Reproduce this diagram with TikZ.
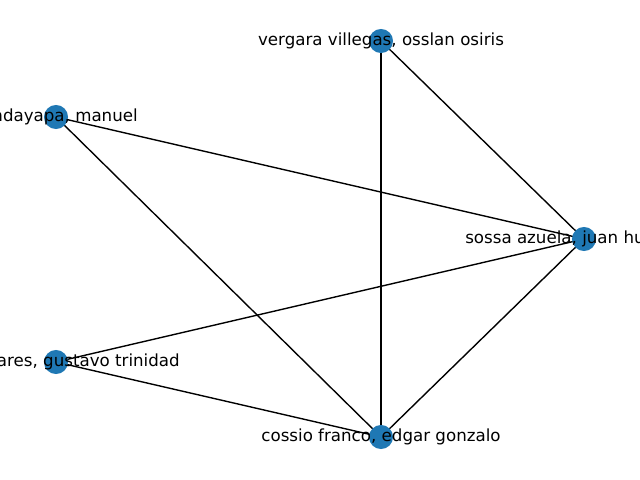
\documentclass[tikz,border=0pt]{standalone}
\usepackage{fontspec}
\setmainfont{DejaVu Sans}
\usetikzlibrary{backgrounds}
\definecolor{nodeblue}{HTML}{1F78B4}
\tikzset{
  vertex/.style={circle, fill=nodeblue, inner sep=0pt, minimum size=17.3pt},
  name label/.style={font=\fontsize{12}{14}\selectfont, inner sep=0pt},
  link/.style={line width=1pt}
}

\begin{document}
\begin{tikzpicture}[x=0.72pt, y=-0.72pt]
      \useasboundingbox (0,0) rectangle (640,480);
      \clip (0,0) rectangle (640,480);
      % vertices
      \node [vertex] (vergara) at (381,41) {};
      \node [vertex] (manuel) at (56,117) {};
      \node [vertex] (sossa) at (584,239) {};
      \node [vertex] (gustavo) at (56,362) {};
      \node [vertex] (cossio) at (381,437) {};
      % links
      \begin{scope}[on background layer]
      \foreach \a/\b in {vergara/cossio, vergara/sossa, manuel/sossa,
                         manuel/cossio, sossa/gustavo, sossa/cossio,
                         gustavo/cossio}
      \draw [link] (\a.center) -- (\b.center);
      \end{scope}
      % labels
      \node [name label] (lvergara) at (vergara) {vergara villegas, osslan osiris};
      \node [name label, anchor=east] (lmanuel) at (138,117) {ndayapa, manuel};
      \node [name label, anchor=west] (lsossa) at (465,239) {sossa azuela, juan hu};
      \node [name label, anchor=east] (lgustavo) at (180,362) {ares, gustavo trinidad};
      \node [name label] (lcossio) at (cossio) {cossio franco, edgar gonzalo};
\end{tikzpicture}
\end{document}
